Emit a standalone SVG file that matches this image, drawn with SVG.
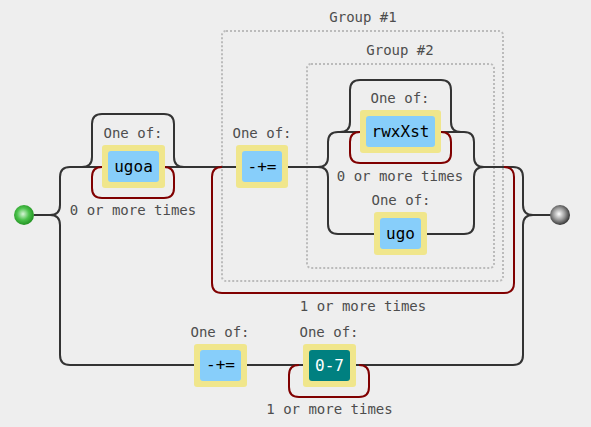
<svg xmlns="http://www.w3.org/2000/svg" width="591" height="427" viewBox="0 0 591 427">
<defs>
<radialGradient id="gStart" cx="0.45" cy="0.45" r="0.6">
<stop offset="0" stop-color="#d6f5d6"/>
<stop offset="0.5" stop-color="#4cc24c"/>
<stop offset="1" stop-color="#1a8a1a"/>
</radialGradient>
<radialGradient id="gEnd" cx="0.45" cy="0.45" r="0.6">
<stop offset="0" stop-color="#ffffff"/>
<stop offset="0.5" stop-color="#999999"/>
<stop offset="1" stop-color="#222222"/>
</radialGradient>
<style>
.ln{fill:none;stroke:#333;stroke-width:2}
.rep{fill:none;stroke:#800000;stroke-width:2}
.grp{fill:none;stroke:#bbb;stroke-width:2;stroke-dasharray:2 2}
.outer{fill:#f0e68c}
.inner{fill:#87cefa}
.lbl{font-family:"DejaVu Sans Mono",monospace;font-size:14px;fill:#4d4d4d;text-anchor:middle}
.itx{font-family:"DejaVu Sans Mono",monospace;font-size:16px;fill:#000;text-anchor:middle}
</style>
</defs>
<rect x="0" y="0" width="591" height="427" fill="#eeeeee"/>
<g id="groups">
<rect class="grp" x="222" y="31" width="281" height="250" rx="4"/>
<text class="lbl" x="363" y="22">Group #1</text>
<rect class="grp" x="307" y="64" width="187" height="204" rx="4"/>
<text class="lbl" x="400" y="55">Group #2</text>
</g>
<g id="connectors">
<path class="ln" d="M34,215 H50 q10,0 10,-10 V177 q0,-10 10,-10 H318"/>
<path class="ln" d="M50,215 q10,0 10,10 V355 q0,10 10,10 H513 q10,0 10,-10 V225 q0,-10 10,-10 H551"/>
<path class="ln" d="M82,167 q10,0 10,-10 V124 q0,-10 10,-10 H164 q10,0 10,10 V157 q0,10 10,10"/>
<path class="rep" d="M164,167 q10,0 10,10 V188 q0,10 -10,10 H102 q-10,0 -10,-10 V177 q0,-10 10,-10"/>
<path class="ln" d="M318,167 q10,0 10,-10 V142 q0,-10 10,-10 H464 q10,0 10,10 V157 q0,10 10,10 H513 q10,0 10,10 V205 q0,10 10,10"/>
<path class="ln" d="M318,167 q10,0 10,10 V224 q0,10 10,10 H464 q10,0 10,-10 V177 q0,-10 10,-10"/>
<path class="ln" d="M340,132 q10,0 10,-10 V90 q0,-10 10,-10 H441 q10,0 10,10 V122 q0,10 10,10"/>
<path class="rep" d="M441,132 q10,0 10,10 V153 q0,10 -10,10 H360 q-10,0 -10,-10 V142 q0,-10 10,-10"/>
<path class="rep" d="M504,167 q10,0 10,10 V283 q0,10 -10,10 H222 q-10,0 -10,-10 V177 q0,-10 10,-10"/>
<path class="rep" d="M359,365 q10,0 10,10 V387 q0,10 -10,10 H299 q-10,0 -10,-10 V375 q0,-10 10,-10"/>
</g>
<g id="start"><circle cx="24" cy="215" r="10" fill="url(#gStart)"/></g>
<g id="end"><circle cx="560" cy="215" r="10" fill="url(#gEnd)"/></g>
<g id="ugoa">
<text class="lbl" x="133" y="138">One of:</text>
<rect class="outer" x="102" y="145" width="63" height="43" rx="3"/>
<rect class="inner" x="108" y="151" width="51" height="31" rx="3"/>
<text class="itx" x="133.5" y="172">ugoa</text>
<text class="lbl" x="133" y="215">0 or more times</text>
</g>
<g id="ops1">
<text class="lbl" x="262" y="138">One of:</text>
<rect class="outer" x="236" y="145" width="52" height="43" rx="3"/>
<rect class="inner" x="242" y="151" width="40" height="31" rx="3"/>
<text class="itx" x="262" y="172">-+=</text>
<text class="lbl" x="363" y="311">1 or more times</text>
</g>
<g id="rwxXst">
<text class="lbl" x="400" y="103">One of:</text>
<rect class="outer" x="360" y="110" width="81" height="43" rx="3"/>
<rect class="inner" x="366" y="116" width="69" height="31" rx="3"/>
<text class="itx" x="400.5" y="137">rwxXst</text>
<text class="lbl" x="400" y="181">0 or more times</text>
</g>
<g id="ugo">
<text class="lbl" x="401" y="205">One of:</text>
<rect class="outer" x="374" y="212" width="53" height="43" rx="3"/>
<rect class="inner" x="380" y="218" width="41" height="31" rx="3"/>
<text class="itx" x="400.5" y="239">ugo</text>
</g>
<g id="ops2">
<text class="lbl" x="220" y="337">One of:</text>
<rect class="outer" x="194" y="344" width="53" height="43" rx="3"/>
<rect class="inner" x="200" y="350" width="41" height="31" rx="3"/>
<text class="itx" x="220.5" y="370">-+=</text>
</g>
<g id="digits">
<text class="lbl" x="329" y="337">One of:</text>
<rect class="outer" x="303" y="344" width="53" height="43" rx="3"/>
<rect x="309" y="350" width="41" height="31" rx="3" fill="#008080"/>
<text class="itx" x="329.5" y="371" fill="#fff" style="fill:#fff">0-7</text>
<text class="lbl" x="329.5" y="414">1 or more times</text>
</g>
</svg>
